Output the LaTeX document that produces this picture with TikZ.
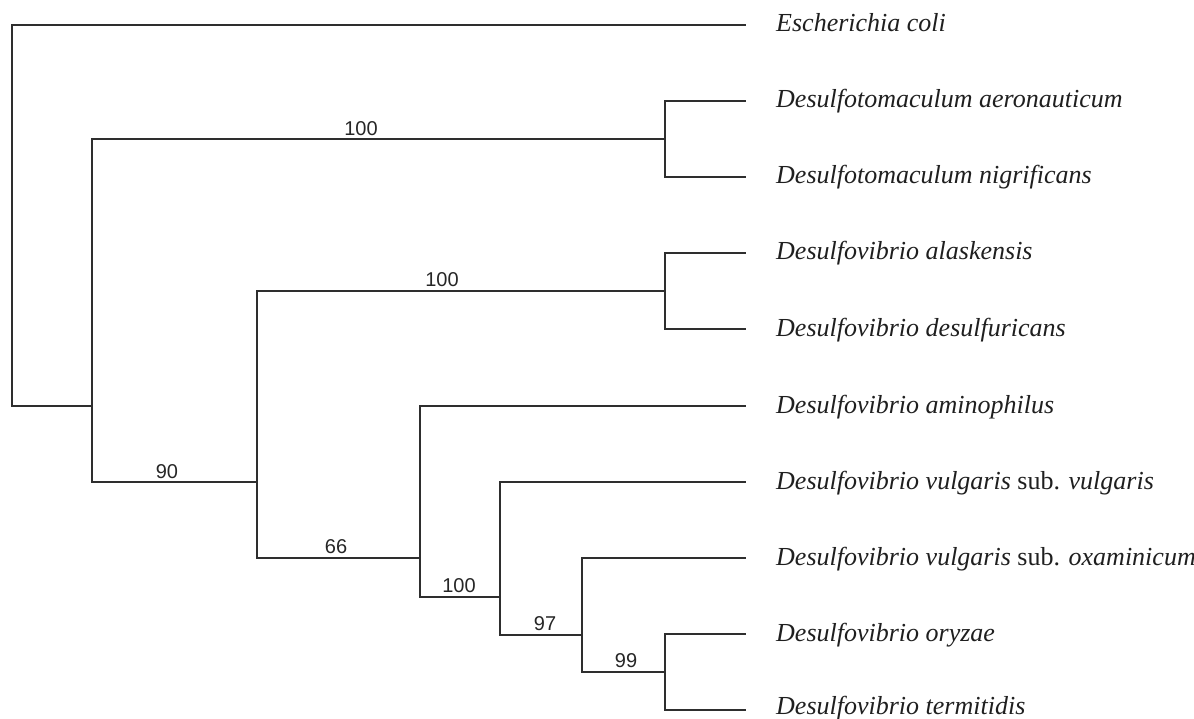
\documentclass[tikz,border=0pt]{standalone}
\usepackage{fontspec}
\setmainfont{Liberation Serif}
\newfontfamily\numfont{Liberation Sans}
\begin{document}
\begin{tikzpicture}[x=1pt,y=-1pt,
  branch/.style={draw=black!82, line width=1.7pt, line cap=rect},
  taxon/.style={anchor=base west, inner sep=0pt, text=black!88,
    font=\fontsize{26}{30}\selectfont\itshape},
  support/.style={anchor=base, inner sep=0pt, text=black!85,
    font=\numfont\fontsize{20}{24}\selectfont}]
\useasboundingbox (0,0) rectangle (1194,719);
% internal nodes
\coordinate (root) at (12,215);
\coordinate (A) at (92,406);
\coordinate (Dm) at (665,139);
\coordinate (B) at (257,482);
\coordinate (Dv) at (665,291);
\coordinate (C) at (420,558);
\coordinate (D) at (500,597);
\coordinate (E) at (582,635);
\coordinate (F) at (665,672);
% leaf ends
\coordinate (l1) at (745,25);
\coordinate (l2) at (745,101);
\coordinate (l3) at (745,177);
\coordinate (l4) at (745,253);
\coordinate (l5) at (745,329);
\coordinate (l6) at (745,406);
\coordinate (l7) at (745,482);
\coordinate (l8) at (745,558);
\coordinate (l9) at (745,634);
\coordinate (l10) at (745,710);
% branches
\draw[branch] (root) |- (l1);
\draw[branch] (root) |- (A);
\draw[branch] (A) |- (Dm);
\draw[branch] (A) |- (B);
\draw[branch] (Dm) |- (l2);
\draw[branch] (Dm) |- (l3);
\draw[branch] (B) |- (Dv);
\draw[branch] (B) |- (C);
\draw[branch] (Dv) |- (l4);
\draw[branch] (Dv) |- (l5);
\draw[branch] (C) |- (l6);
\draw[branch] (C) |- (D);
\draw[branch] (D) |- (l7);
\draw[branch] (D) |- (E);
\draw[branch] (E) |- (l8);
\draw[branch] (E) |- (F);
\draw[branch] (F) |- (l9);
\draw[branch] (F) |- (l10);
% taxa
\node[taxon] (t1) at (776,32) {Escherichia coli};
\node[taxon] (t2) at (776,108) {Desulfotomaculum aeronauticum};
\node[taxon] (t3) at (776,184) {Desulfotomaculum nigrificans};
\node[taxon] (t4) at (776,260) {Desulfovibrio alaskensis};
\node[taxon] (t5) at (776,336) {Desulfovibrio desulfuricans};
\node[taxon] (t6) at (776,413) {Desulfovibrio aminophilus};
\node[taxon] (t7) at (776,489) {Desulfovibrio vulgaris \upshape sub. \itshape vulgaris};
\node[taxon] (t8) at (776,565) {Desulfovibrio vulgaris \upshape sub. \itshape oxaminicum};
\node[taxon] (t9) at (776,641) {Desulfovibrio oryzae};
\node[taxon] (t10) at (776,714) {Desulfovibrio termitidis};
% support values
\node[support] (s1) at (361,136) {100};
\node[support] (s2) at (167,478) {90};
\node[support] (s3) at (442,287) {100};
\node[support] (s4) at (336,553) {66};
\node[support] (s5) at (459,592) {100};
\node[support] (s6) at (545,630) {97};
\node[support] (s7) at (626,667) {99};
\end{tikzpicture}
\end{document}
